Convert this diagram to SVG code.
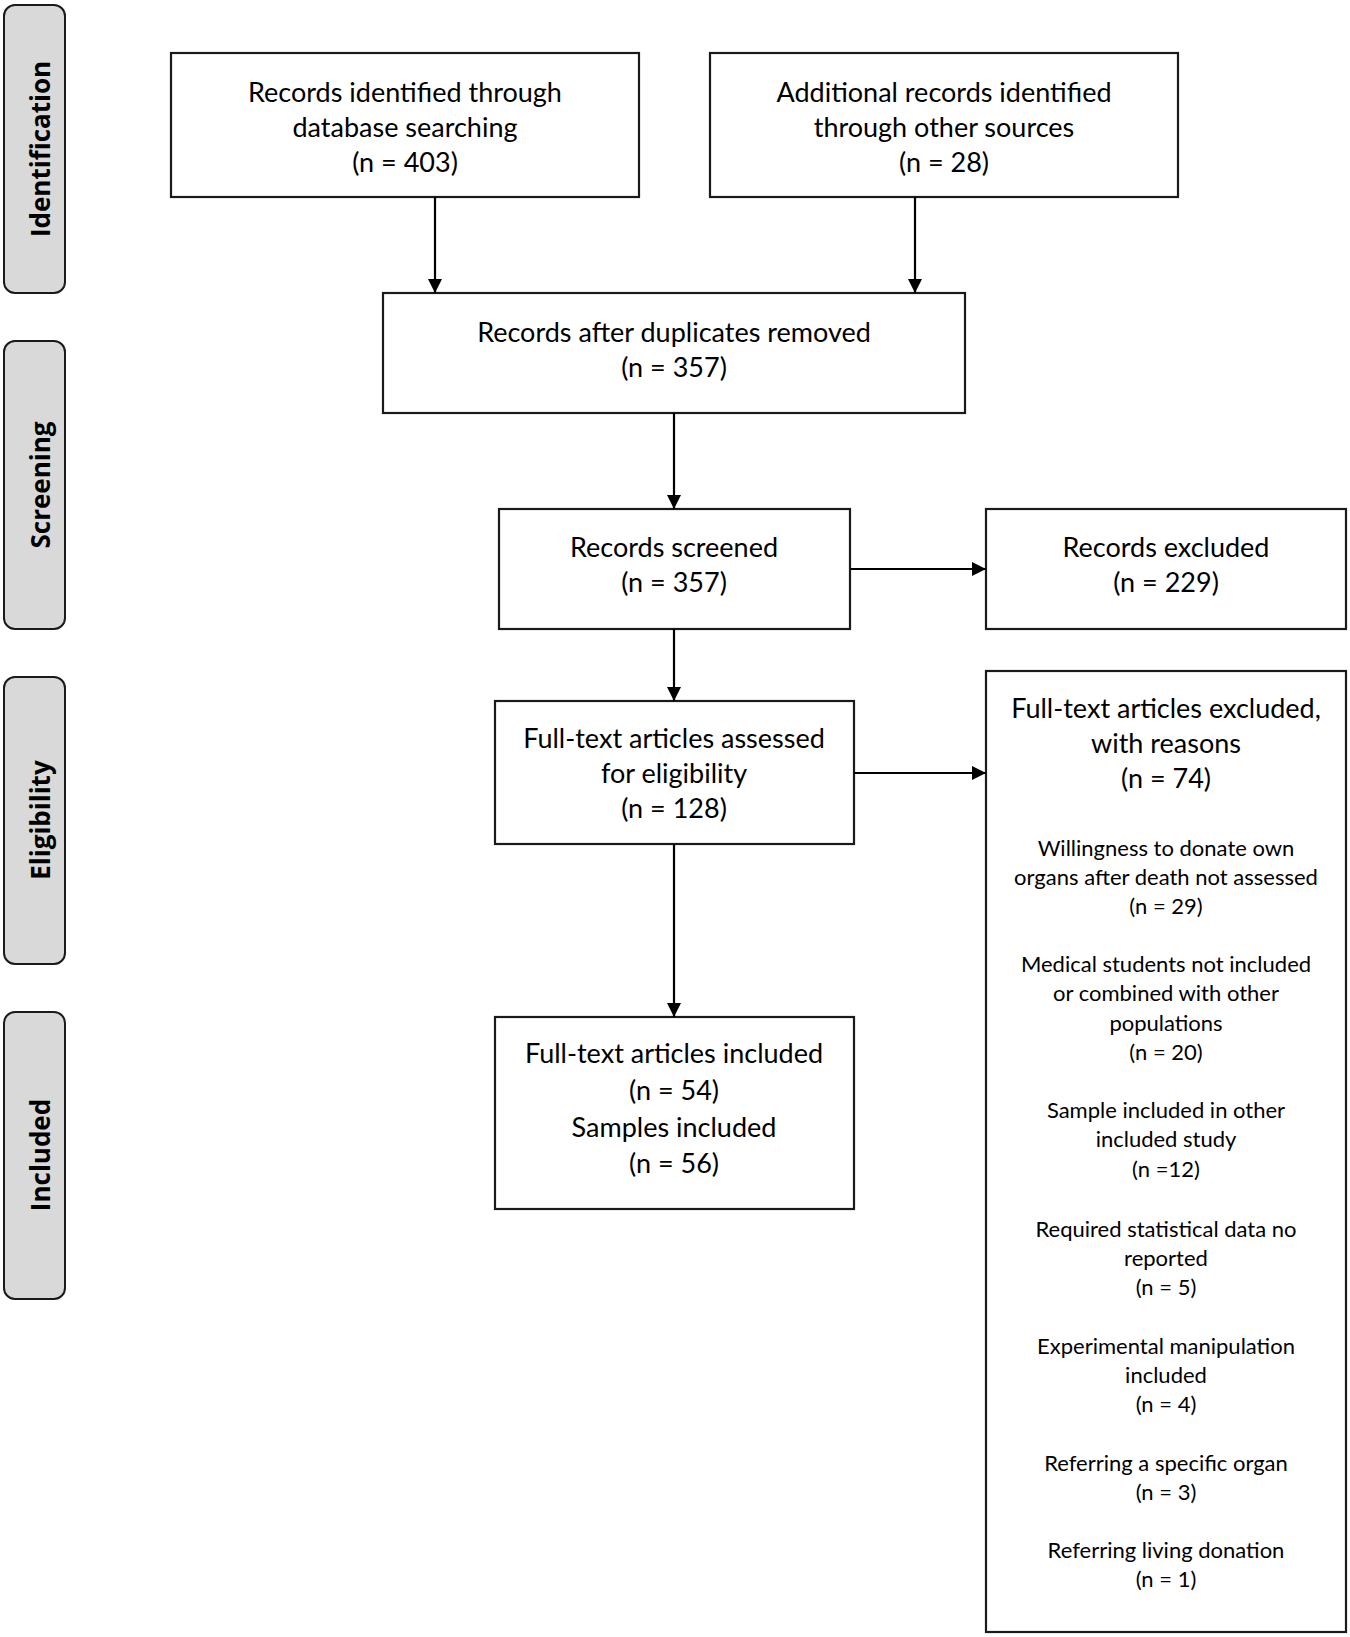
<svg xmlns="http://www.w3.org/2000/svg" width="1350" height="1637" viewBox="0 0 1350 1637">
<defs>
<marker id="ah" markerWidth="14" markerHeight="14" refX="14" refY="7" orient="auto" markerUnits="userSpaceOnUse">
<path d="M0,0 L14,7 L0,14 Z" fill="#000"/>
</marker>
<style>
.lab rect{fill:#d9d9d9;stroke:#1a1a1a;stroke-width:2}
.lab text{font-family:"Open Sans","DejaVu Sans",sans-serif;font-weight:bold;font-size:26px;fill:#000;text-anchor:middle}
.box rect{fill:#fff;stroke:#1a1a1a;stroke-width:2.2}
.box text{font-family:Lato,"Liberation Sans",sans-serif;font-size:27px;fill:#000;text-anchor:middle}
.box text.s{font-size:22px}
.conn line{stroke:#000;stroke-width:2.2;marker-end:url(#ah)}
</style>
</defs>
<rect width="1350" height="1637" fill="#fff"/>

<g id="label-identification" class="lab"><rect x="4" y="5" width="61" height="288" rx="11"/><text transform="translate(50,149) rotate(-90)">Identification</text></g>
<g id="label-screening" class="lab"><rect x="4" y="341" width="61" height="288" rx="11"/><text transform="translate(50,485) rotate(-90)">Screening</text></g>
<g id="label-eligibility" class="lab"><rect x="4" y="677" width="61" height="287" rx="11"/><text transform="translate(50,820) rotate(-90)">Eligibility</text></g>
<g id="label-included" class="lab"><rect x="4" y="1012" width="61" height="287" rx="11"/><text transform="translate(50,1155) rotate(-90)">Included</text></g>

<g id="n-database" class="box"><rect x="171" y="53" width="468" height="144"/>
<text x="405" y="102">Records identified through</text><text x="405" y="137">database searching</text><text x="405" y="172">(n = 403)</text></g>

<g id="n-other" class="box"><rect x="710" y="53" width="468" height="144"/>
<text x="944" y="102">Additional records identified</text><text x="944" y="137">through other sources</text><text x="944" y="172">(n = 28)</text></g>

<g id="n-dedup" class="box"><rect x="383" y="293" width="582" height="120"/>
<text x="674" y="342">Records after duplicates removed</text><text x="674" y="377">(n = 357)</text></g>

<g id="n-screened" class="box"><rect x="499" y="509" width="351" height="120"/>
<text x="674" y="557">Records screened</text><text x="674" y="592">(n = 357)</text></g>

<g id="n-excluded" class="box"><rect x="986" y="509" width="360" height="120"/>
<text x="1166" y="557">Records excluded</text><text x="1166" y="592">(n = 229)</text></g>

<g id="n-assessed" class="box"><rect x="495" y="701" width="359" height="143"/>
<text x="674" y="748">Full-text articles assessed</text><text x="674" y="783">for eligibility</text><text x="674" y="818">(n = 128)</text></g>

<g id="n-ftexcluded" class="box"><rect x="986" y="671" width="360" height="961"/>
<text x="1166" y="718">Full-text articles excluded,</text><text x="1166" y="753">with reasons</text><text x="1166" y="788">(n = 74)</text>
<text class="s" x="1166" y="856">Willingness to donate own</text><text class="s" x="1166" y="885">organs after death not assessed</text><text class="s" x="1166" y="914">(n = 29)</text>
<text class="s" x="1166" y="972">Medical students not included</text><text class="s" x="1166" y="1001">or combined with other</text><text class="s" x="1166" y="1031">populations</text><text class="s" x="1166" y="1060">(n = 20)</text>
<text class="s" x="1166" y="1118">Sample included in other</text><text class="s" x="1166" y="1147">included study</text><text class="s" x="1166" y="1177">(n =12)</text>
<text class="s" x="1166" y="1237">Required statistical data no</text><text class="s" x="1166" y="1266">reported</text><text class="s" x="1166" y="1295">(n = 5)</text>
<text class="s" x="1166" y="1354">Experimental manipulation</text><text class="s" x="1166" y="1383">included</text><text class="s" x="1166" y="1412">(n = 4)</text>
<text class="s" x="1166" y="1471">Referring a specific organ</text><text class="s" x="1166" y="1500">(n = 3)</text>
<text class="s" x="1166" y="1558">Referring living donation</text><text class="s" x="1166" y="1587">(n = 1)</text></g>

<g id="n-included" class="box"><rect x="495" y="1017" width="359" height="192"/>
<text x="674" y="1063">Full-text articles included</text><text x="674" y="1100">(n = 54)</text><text x="674" y="1137">Samples included</text><text x="674" y="1173">(n = 56)</text></g>

<g id="connectors" class="conn">
<line x1="435" y1="197" x2="435" y2="293"/>
<line x1="915" y1="197" x2="915" y2="293"/>
<line x1="674" y1="413" x2="674" y2="509"/>
<line x1="850" y1="569" x2="986" y2="569"/>
<line x1="674" y1="629" x2="674" y2="701"/>
<line x1="854" y1="773" x2="986" y2="773"/>
<line x1="674" y1="844" x2="674" y2="1017"/>
</g>
</svg>
